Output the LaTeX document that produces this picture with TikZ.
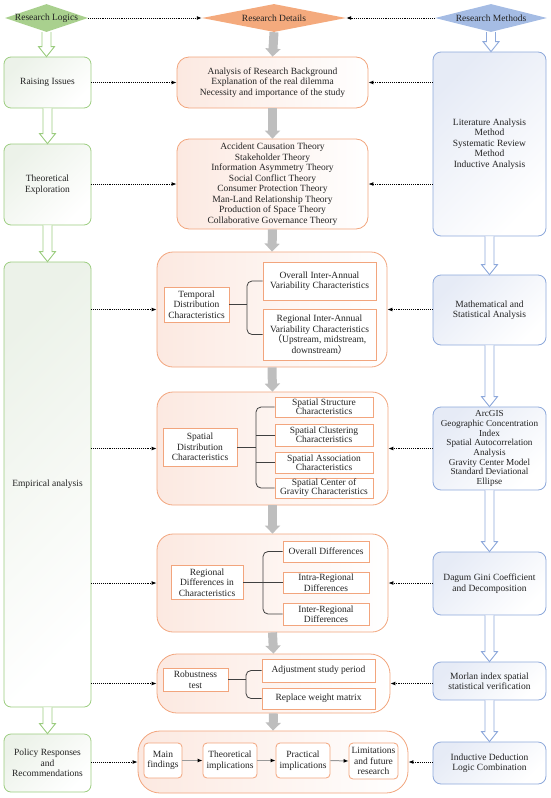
\documentclass[tikz,border=0pt]{standalone}
\usepackage{fontspec}
\setmainfont{Liberation Serif}
\newfontfamily\cjkf{Noto Sans CJK SC}
\usetikzlibrary{shapes.geometric,arrows.meta,calc}
\definecolor{gB}{RGB}{156,205,128}
\definecolor{gF}{RGB}{236,242,233}
\definecolor{gD}{RGB}{169,208,142}
\definecolor{oB}{RGB}{242,165,125}
\definecolor{oF}{RGB}{252,233,225}
\definecolor{oD}{RGB}{244,170,125}
\definecolor{bB}{RGB}{142,169,219}
\definecolor{bF}{RGB}{230,235,246}
\definecolor{bD}{RGB}{165,188,228}
\definecolor{gA}{RGB}{190,190,190}
\definecolor{txt}{RGB}{35,35,35}
\newcommand{\hollowarr}[3]{\draw[#3, line width=0.9pt, fill=white] let \p1=(#1.south), \p2=(#2.north) in
  (\x1-4.5pt,\y1) -- (\x1-4.5pt,\y2+10pt) -- (\x1-8pt,\y2+10pt) -- (\x1,\y2) -- (\x1+8pt,\y2+10pt) -- (\x1+4.5pt,\y2+10pt) -- (\x1+4.5pt,\y1);}
\begin{document}
\begin{tikzpicture}[x=1pt,y=-1pt,font=\fontsize{9.5}{10.5}\selectfont,text=txt,
  dia/.style={diamond,inner sep=0pt,draw=none},
  gbox/.style={draw=gB,line width=0.8pt,rounded corners=7pt,top color=gF,bottom color=white,shading angle=45,align=center,inner sep=2pt},
  obox/.style={draw=oB,line width=0.8pt,left color=oF,right color=white,align=center,inner sep=2pt},
  bbox/.style={draw=bB,line width=0.8pt,rounded corners=8pt,top color=bF,bottom color=white,shading angle=45,align=center,inner sep=2pt},
  ibox/.style={draw=oB,line width=0.8pt,fill=white,align=center,inner sep=1pt},
  grayarr/.style={line width=9pt,draw=gA,-{Triangle[length=8pt,width=15pt]}},
  dotarr/.style={densely dotted,line width=0.9pt,-{Latex[length=5pt,width=4pt]}},
  brk/.style={draw=black!75,line width=0.8pt,rounded corners=5pt},
  smallarr/.style={draw=gray!80,line width=1pt,-{Latex[length=5pt,width=4pt,color=black]}}
]
\useasboundingbox (0,0) rectangle (550,798);

% diamonds
\node[dia,fill=gD,minimum width=83pt,minimum height=28pt] (dlog) at (46.5,18) {};
\node (tlog) at (dlog.center) {Research Logics};
\node[dia,fill=oD,minimum width=144pt,minimum height=28pt] (ddet) at (274,18) {};
\node (tdet) at (ddet.center) {Research Details};
\node[dia,fill=bD,minimum width=112pt,minimum height=28pt] (dmet) at (491,18) {};
\node (tmet) at (dmet.center) {Research Methods};

% left column
\node[gbox,minimum width=87pt,minimum height=51pt] (raise) at (47.5,82.5) {Raising Issues};
\node[gbox,minimum width=87pt,minimum height=81pt] (theo) at (47.5,184.5) {Theoretical\\Exploration};
\node[gbox,minimum width=87pt,minimum height=445pt] (emp) at (47.5,484.5) {Empirical analysis};
\node[gbox,minimum width=87pt,minimum height=58pt] (pol) at (47.5,763) {Policy Responses\\and\\Recommendations};

% middle column
\node[obox,rounded corners=12pt,minimum width=191pt,minimum height=51pt] (b1) at (272.5,82.5)
  {Analysis of Research Background\\Explanation of the real dilemma\\Necessity and importance of the study};
\node[obox,rounded corners=12pt,minimum width=191pt,minimum height=90pt] (b2) at (272.5,184)
  {Accident Causation Theory\\Stakeholder Theory\\Information Asymmetry Theory\\Social Conflict Theory\\Consumer Protection Theory\\Man-Land Relationship Theory\\Production of Space Theory\\Collaborative Governance Theory};
\node[obox,rounded corners=16pt,minimum width=230pt,minimum height=115pt] (b3) at (272,309.5) {};
\node[obox,rounded corners=16pt,minimum width=231pt,minimum height=113pt] (b4) at (272.5,448.5) {};
\node[obox,rounded corners=16pt,minimum width=231pt,minimum height=98pt] (b5) at (272.5,583) {};
\node[obox,rounded corners=20pt,minimum width=233pt,minimum height=59pt] (b6) at (273.5,683.5) {};
\node[obox,rounded corners=22pt,minimum width=270pt,minimum height=62pt] (b7) at (273,762) {};

% right column
\node[bbox,minimum width=113pt,minimum height=184pt] (lit) at (489.5,144)
  {Literature Analysis\\Method\\Systematic Review\\Method\\Inductive Analysis};
\node[bbox,minimum width=113pt,minimum height=70pt] (math) at (489.5,310) {Mathematical and\\Statistical Analysis};
\node[bbox,minimum width=113pt,minimum height=83pt,font=\fontsize{9.2}{9.7}\selectfont] (arc) at (489.5,448.5)
  {ArcGIS\\Geographic Concentration\\Index\\Spatial Autocorrelation\\Analysis\\Gravity Center Model\\Standard Deviational\\Ellipse};
\node[bbox,minimum width=113pt,minimum height=63pt] (dag) at (489.5,583.5) {Dagum Gini Coefficient\\and Decomposition};
\node[bbox,minimum width=113pt,minimum height=38pt] (mor) at (489.5,681) {Morlan index spatial\\statistical verification};
\node[bbox,minimum width=113pt,minimum height=42pt] (ind) at (489.5,763) {Inductive Deduction\\Logic Combination};

% box 3 inner
\node[ibox,minimum width=65pt,minimum height=35pt] (temp) at (196.5,304.5) {Temporal\\Distribution\\Characteristics};
\node[ibox,minimum width=113pt,minimum height=38pt] (over) at (319.5,281) {Overall Inter-Annual\\Variability Characteristics};
\node[ibox,minimum width=113pt,minimum height=51pt] (reg) at (319.5,334.5) {Regional Inter-Annual\\Variability Characteristics\\{\cjkf （}Upstream, midstream,\\downstream{\cjkf ）}};
\coordinate (k3) at (247,304.5);
\draw[brk] (temp.east) -- (k3);
\draw[brk] (over.west) -| (k3) |- (reg.west);

% box 4 inner
\node[ibox,minimum width=74pt,minimum height=38pt] (sdist) at (200,447) {Spatial\\Distribution\\Characteristics};
\begin{scope}[every node/.append style={font=\fontsize{9.5}{9}\selectfont}]
\node[ibox,minimum width=98pt,minimum height=20pt] (sstr) at (324,407) {Spatial Structure\\Characteristics};
\node[ibox,minimum width=98pt,minimum height=22pt] (sclu) at (324,435) {Spatial Clustering\\Characteristics};
\node[ibox,minimum width=98pt,minimum height=21pt] (sass) at (324,462.5) {Spatial Association\\Characteristics};
\node[ibox,minimum width=98pt,minimum height=20pt] (scen) at (324,488) {Spatial Center of\\Gravity Characteristics};
\end{scope}
\coordinate (k4) at (256,447);
\draw[brk] (sdist.east) -- (k4);
\draw[brk] (sstr.west) -| (k4) |- (scen.west);
\draw[brk] (k4 |- sclu.west) -- (sclu.west);
\draw[brk] (k4 |- sass.west) -- (sass.west);

% box 5 inner
\node[ibox,minimum width=72pt,minimum height=34pt] (rd) at (207,582.5) {Regional\\Differences in\\Characteristics};
\node[ibox,minimum width=86pt,minimum height=21pt] (od) at (326,551.5) {Overall Differences};
\node[ibox,minimum width=86pt,minimum height=21pt] (intra) at (326,582.5) {Intra-Regional\\Differences};
\node[ibox,minimum width=86pt,minimum height=22pt] (inter) at (326,614) {Inter-Regional\\Differences};
\coordinate (k5) at (263,582.5);
\draw[brk] (rd.east) -- (intra.west);
\draw[brk] (od.west) -| (k5) |- (inter.west);

% box 6 inner
\node[ibox,minimum width=65pt,minimum height=23pt] (rob) at (195.5,679.5) {Robustness\\test};
\node[ibox,minimum width=113pt,minimum height=23pt] (adj) at (318.5,670.5) {Adjustment study period};
\node[ibox,minimum width=113pt,minimum height=21pt] (rep) at (318.5,698.5) {Replace weight matrix};
\coordinate (k6) at (246,679.5);
\draw[brk] (rob.east) -- (k6);
\draw[brk] (adj.west) -| (k6) |- (rep.west);

% box 7 inner
\node[ibox,rounded corners=4pt,minimum width=38pt,minimum height=35pt] (mf) at (163,760.5) {Main\\findings};
\node[ibox,rounded corners=4pt,minimum width=54pt,minimum height=35pt] (ti) at (230,760.5) {Theoretical\\implications};
\node[ibox,rounded corners=4pt,minimum width=54pt,minimum height=35pt] (pi) at (303,760.5) {Practical\\implications};
\node[ibox,rounded corners=4pt,minimum width=49pt,minimum height=36pt] (lf) at (373.5,761) {Limitations\\and future\\research};
\draw[smallarr] (mf.east) -- (ti.west);
\draw[smallarr] (ti.east) -- (pi.west);
\draw[smallarr] (pi.east) -- (lf.west);

% gray arrows
\draw[grayarr] (ddet.south) -- (b1.north);
\draw[grayarr] (b1.south) -- (b2.north);
\draw[grayarr] (b2.south) -- (b3.north);
\draw[grayarr] (b3.south) -- (b4.north);
\draw[grayarr] (b4.south) -- (b5.north);
\draw[grayarr] (b5.south) -- (b6.north);
\draw[grayarr] (b6.south) -- (b7.north);

% hollow arrows
\hollowarr{dlog}{raise}{gB}
\hollowarr{raise}{theo}{gB}
\hollowarr{theo}{emp}{gB}
\hollowarr{emp}{pol}{gB}
\hollowarr{dmet}{lit}{bB}
\hollowarr{lit}{math}{bB}
\hollowarr{math}{arc}{bB}
\hollowarr{arc}{dag}{bB}
\hollowarr{dag}{mor}{bB}
\hollowarr{mor}{ind}{bB}

% dotted arrows
\draw[dotarr] (dlog.east) -- (ddet.west);
\draw[dotarr] (dmet.west) -- (ddet.east);
\draw[dotarr] (raise.east |- b1.west) -- (b1.west);
\draw[dotarr] (theo.east |- b2.west) -- (b2.west);
\draw[dotarr] (emp.east |- b3.west) -- (b3.west);
\draw[dotarr] (emp.east |- b4.west) -- (b4.west);
\draw[dotarr] (emp.east |- b5.west) -- (b5.west);
\draw[dotarr] (emp.east |- b6.west) -- (b6.west);
\draw[dotarr] (pol.east |- b7.west) -- (b7.west);
\draw[dotarr] (lit.west |- b1.east) -- (b1.east);
\draw[dotarr] (lit.west |- b2.east) -- (b2.east);
\draw[dotarr] (math.west |- b3.east) -- (b3.east);
\draw[dotarr] (arc.west |- b4.east) -- (b4.east);
\draw[dotarr] (dag.west |- b5.east) -- (b5.east);
\draw[dotarr] (mor.west |- b6.east) -- (b6.east);
\draw[dotarr] (ind.west |- b7.east) -- (b7.east);
\end{tikzpicture}
\end{document}
